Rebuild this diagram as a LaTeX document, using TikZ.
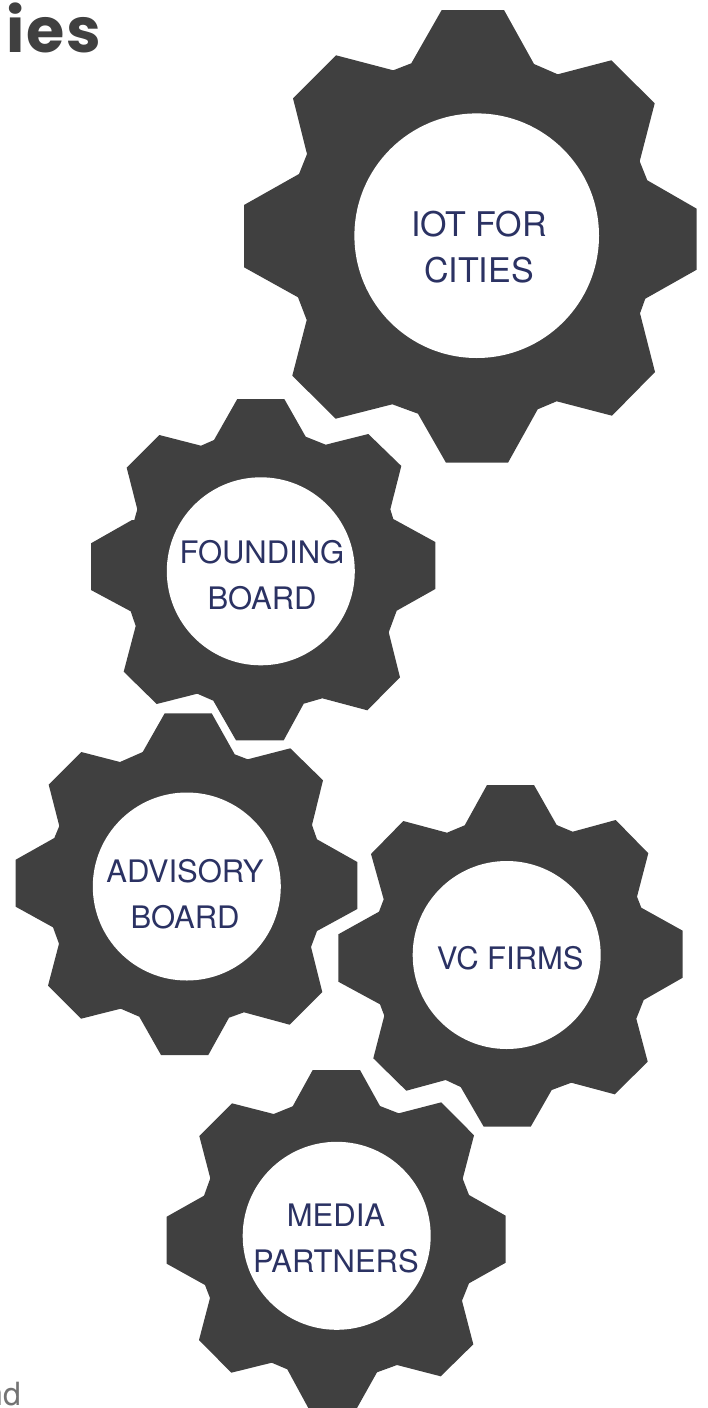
\documentclass[tikz,border=0pt]{standalone}
\usepackage{fontspec}
\setmainfont{TeX Gyre Heros}
\newfontfamily\headfont[LetterSpace=3]{Poppins}
\usepackage{xcolor}
\usepackage{tikz}
\definecolor{geargray}{RGB}{64,64,64}
\definecolor{labelblue}{RGB}{43,50,99}
\definecolor{notegray}{RGB}{115,115,115}
\tikzset{
  gearbody/.style={fill=geargray},
  hub/.style={circle, fill=white, inner sep=0pt, minimum size=188pt},
  hubbig/.style={hub, minimum size=244.6pt},
  gearlabel/.style={anchor=base, align=center, inner sep=0pt, text=labelblue, font=\fontsize{31}{46}\selectfont},
  gearlabelbig/.style={gearlabel, font=\fontsize{34}{46}\selectfont}
}

\begin{document}
\begin{tikzpicture}[x=1pt,y=-1pt]
\useasboundingbox (0,0) rectangle (707,1408);
\node[anchor=base west, inner sep=0pt, text=geargray, font=\headfont\bfseries\fontsize{62}{62}\selectfont] (heading) at (6,52) {ies};
\node[anchor=base east, inner sep=0pt, text=notegray, font=\fontsize{32}{32}\selectfont] (note) at (21,1405) {nd};
\fill[gearbody] (441.7,10) -- (504,10) -- (534,64) -- (557.7,74.3) -- (611.3,60.3) -- (654.7,103.3) -- (639.7,161.3) -- (647.3,180.3)
  -- (696.7,208.7) -- (696.7,269.7) -- (645.3,298.7) -- (640,313.3) -- (655,372) -- (612,415.7) -- (556.7,401.3) -- (537.7,409.3)
  -- (508,462.7) -- (446,462.7) -- (418,413.7) -- (392.3,404.3) -- (335.7,418.7) -- (292.3,375.7) -- (306.7,320) -- (298,297.3)
  -- (244,267.3) -- (244,205) -- (299,174) -- (307,154) -- (293,98.3) -- (336,55.3) -- (393.3,70.3) -- (411.3,63.3) -- cycle;
\fill[gearbody] (237.3,399) -- (284.3,399) -- (305.7,436.7) -- (325.7,444.7) -- (368.3,434) -- (401.3,466) -- (390.3,509.3) -- (393.3,519)
  -- (435.3,542) -- (435.3,589) -- (396.7,610.7) -- (388.7,632.3) -- (400,677.3) -- (367.3,710.3) -- (322.3,698.3) -- (303.7,703.7)
  -- (283.7,740.3) -- (236,740.3) -- (213.3,700.7) -- (197.3,693.7) -- (156.7,704) -- (123.7,671.7) -- (135.7,626) -- (130.7,611.3)
  -- (91,590) -- (91,543.3) -- (132,520) -- (134.3,520) -- (137.3,509.3) -- (126.7,467.7) -- (159.3,435) -- (201,445.7) -- (214,440) -- cycle;
\fill[gearbody] (164.7,713.3) -- (211.7,713.3) -- (234.7,754.3) -- (247.7,759.3) -- (290.3,748.3) -- (323,780.3) -- (312,825) -- (317,839.3)
  -- (357.3,862) -- (357.3,909) -- (317,931) -- (311,947) -- (322.3,992) -- (289.7,1024.7) -- (244,1012.3) -- (229,1017.7)
  -- (208.3,1055) -- (161,1055) -- (139.3,1016.7) -- (120.7,1008.7) -- (81,1018.7) -- (48,985.7) -- (59,943.7) -- (53,927.3)
  -- (15.7,906.7) -- (15.7,859.7) -- (54.3,838) -- (59.3,826) -- (48.7,784.7) -- (81.3,752) -- (120,762) -- (142.7,752) -- cycle;
\fill[gearbody] (487,785) -- (534,785) -- (556.7,825) -- (572.7,831.7) -- (615.7,820) -- (648.3,853.3) -- (637,896.7) -- (641.3,907.7)
  -- (682.7,930.7) -- (682.7,977.7) -- (643.7,1000) -- (636.3,1018.7) -- (647.7,1061.7) -- (614.7,1094.3) -- (571.3,1082.7) -- (551.7,1090)
  -- (530.7,1126.7) -- (483.7,1126.7) -- (460.7,1087) -- (445.7,1080) -- (406.3,1090.7) -- (373.3,1058.3) -- (384.3,1015.7) -- (380,1004.3)
  -- (338.3,981.7) -- (338.3,934.3) -- (379,911.7) -- (383.7,899.3) -- (371,854) -- (403.3,821) -- (447,832.7) -- (464.7,825.3) -- cycle;
\fill[gearbody] (312.7,1070) -- (360,1070) -- (380,1106) -- (398.7,1113.3) -- (441.3,1102.3) -- (474,1135.3) -- (462.7,1178.7) -- (469,1195)
  -- (505.7,1215.7) -- (505.7,1262.7) -- (469,1283.3) -- (462,1300.7) -- (473.3,1344.3) -- (440.7,1376.3) -- (397,1365) -- (377,1372.3)
  -- (357,1408) -- (308.3,1408) -- (287.3,1369.3) -- (271.7,1362.7) -- (231.3,1372.7) -- (199,1340) -- (210,1298) -- (205,1285)
  -- (166.7,1263.7) -- (166.7,1216.7) -- (204,1195.7) -- (210.3,1178.3) -- (199.3,1136) -- (232,1103.3) -- (273.7,1114) -- (292.7,1106.3) -- cycle;
\node[hubbig] (iothub) at (476.7,235.7) {};
\node[hub] (foundinghub) at (260.8,571.3) {};
\node[hub] (advisoryhub) at (186.8,886.5) {};
\node[hub] (vchub) at (506.7,955) {};
\node[hub] (mediahub) at (336.7,1235.8) {};
\node[gearlabelbig] (iot) at (479,282.7) {IOT FOR\\CITIES};
\node[gearlabel] (founding) at (262,609.3) {FOUNDING\\BOARD};
\node[gearlabel] (advisory) at (185,928.7) {ADVISORY\\BOARD};
\node[gearlabel] (vc) at (510.3,969) {VC FIRMS};
\node[gearlabel] (media) at (336,1272.7) {MEDIA\\PARTNERS};
\end{tikzpicture}
\end{document}
